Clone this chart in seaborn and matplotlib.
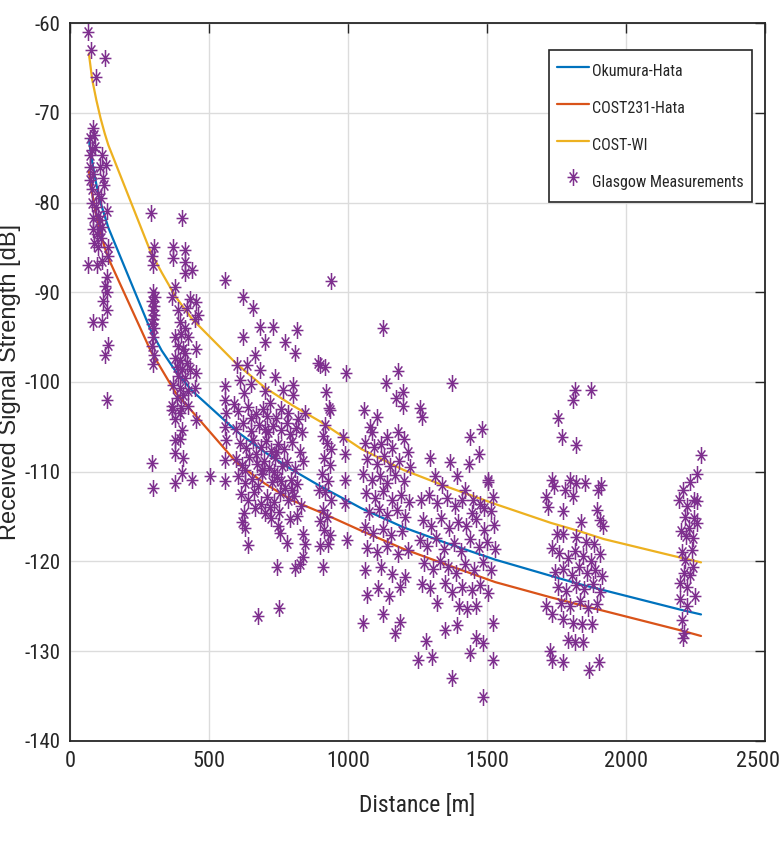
import numpy as np
import pandas as pd
import seaborn as sns
import matplotlib
matplotlib.use('Agg')
import matplotlib.pyplot as plt
from matplotlib import font_manager
from matplotlib.path import Path
from matplotlib.transforms import ScaledTranslation

# model curves (distance in m, level in dB)
model_d = [68, 80, 95, 110, 125, 138, 290, 330, 380, 440, 600, 700, 800, 900,
           1050, 1200, 1350, 1530, 1730, 1830, 1920, 2200, 2270]
okumura = [-73.0, -75.5, -78.0, -80.0, -81.5, -82.8, -94.2, -96.5, -98.8, -101.0,
           -105.5, -107.8, -109.8, -111.6, -114.1, -116.2, -117.9, -119.8, -121.6,
           -122.5, -123.2, -125.4, -125.9]
cost231 = [-76.5, -79.0, -81.5, -83.3, -85.0, -86.2, -96.5, -98.6, -101.2, -103.3,
           -109.0, -111.3, -113.2, -114.5, -116.6, -118.6, -120.3, -122.3, -124.0,
           -124.8, -125.5, -127.7, -128.3]
cost_wi = [-63.4, -66.3, -68.6, -70.6, -72.3, -73.6, -85.5, -87.8, -90.5, -93.0,
           -98.0, -100.6, -102.6, -104.4, -107.5, -109.8, -111.6, -113.6, -115.7,
           -116.6, -117.5, -119.6, -120.1]

# Glasgow measurements, one list per group of distances
meas_60_140 = [(66, -61), (76, -63), (126, -63.9), (92, -66), (84, -71.7), (88, -72.5),
               (72, -72.8), (90, -73.8), (78, -74.2), (72, -74.7), (114, -74.7),
               (128, -75.8), (72, -76), (108, -76), (82, -76.8), (72, -77.5), (122, -78),
               (119, -77.3), (102, -79), (110, -79.5), (78, -80), (135, -81), (84, -81.7),
               (108, -82), (114, -82.7), (84, -83), (96, -83.5), (110, -84), (100, -85),
               (138, -85), (138, -86), (66, -87), (96, -87), (132, -88.3), (126, -89.3),
               (135, -90), (120, -91), (132, -92), (84, -93.3), (114, -93.3), (138, -95.9),
               (126, -97), (132, -102), (80, -78.5), (92, -80.5), (100, -81.5), (104, -83),
               (88, -84.5), (116, -86.5)]
meas_300 = [(291, -81.2), (303, -85), (296, -86), (300, -87), (300, -90), (306, -90.5),
            (294, -91), (302, -91.5), (297, -92), (304, -92.5), (299, -93), (295, -93.5),
            (303, -94), (300, -95), (296, -96), (302, -97), (299, -98), (294, -109),
            (297, -111.8)]
meas_400 = [(372, -85), (414, -85.3), (404, -81.7), (372, -86.2), (414, -86.6), (438, -87.5),
            (414, -87.8), (378, -89.4), (366, -90.5), (432, -90.8), (455, -91.1), (390, -92),
            (420, -91.8), (462, -92.5), (396, -93.3), (414, -94), (448, -93), (400, -94.6),
            (378, -95), (424, -95), (390, -96), (408, -96.3), (455, -96.3), (414, -96.8),
            (378, -97.3), (396, -97.6), (420, -97.9), (384, -98.3), (402, -98.6), (432, -98.5),
            (455, -99), (390, -99.3), (414, -99.6), (372, -100.3), (396, -100.7), (424, -101),
            (448, -100.7), (408, -101.4), (384, -101.8), (366, -102.7), (400, -102.9),
            (424, -102.7), (396, -103.5), (378, -104.1), (455, -104.2), (402, -105.3),
            (378, -106.5), (396, -106.4), (378, -107.9), (408, -108.5), (402, -110.1),
            (378, -111.2), (438, -110.9), (366, -103.1)]
meas_530 = [(504, -110.5), (558, -88.6), (558, -108.7), (558, -111), (558, -100.5),
            (558, -102), (560, -103.5), (556, -105), (560, -106.5)]
meas_700 = [(624, -90.5), (660, -91.8), (683, -93.9), (731, -93.9), (622, -95), (701, -95.5),
            (773, -95.5), (815, -94.2), (809, -96.8), (665, -97), (600, -98.1), (636, -98.1),
            (683, -98.7), (737, -99.4), (612, -99.8), (803, -100.3), (767, -100.9),
            (625, -101.2), (803, -101.5), (650, -100.2), (700, -101), (720, -102.3),
            (590, -102.5), (760, -103), (845, -103.5),
            (605, -103.2), (640, -102.8), (668, -103.6), (695, -103), (742, -104), (785, -103.4),
            (820, -104.1), (598, -105.2), (622, -104.6), (652, -105.5), (680, -104.8),
            (712, -105.6), (730, -104.9), (758, -105.3), (790, -105.8), (812, -105.1),
            (836, -105.6), (610, -106.8), (632, -107.4), (660, -106.5), (688, -107.2),
            (705, -106.6), (722, -107.7), (748, -106.9), (770, -107.5), (800, -106.7),
            (826, -107.8), (596, -108.6), (618, -109.3), (645, -108.4), (672, -109.1),
            (698, -108.8), (716, -109.6), (738, -108.5), (762, -109.4), (780, -108.9),
            (808, -109.7), (840, -108.8), (606, -110.5), (628, -111.3), (655, -110.8),
            (676, -111.6), (692, -110.3), (725, -111.1), (745, -110.6), (772, -111.8),
            (795, -110.9), (818, -111.4), (615, -112.5), (640, -113.2), (662, -112.3),
            (686, -113.6), (710, -112.8), (735, -113.4), (756, -112.4), (785, -113.1),
            (806, -112.7), (830, -113.8), (625, -114.6), (665, -114), (701, -114.6),
            (722, -115.2), (752, -114.5), (790, -115.3), (815, -114.9),
            (650, -104), (700, -105.2), (740, -107.8), (690, -109.8), (760, -111),
            (720, -113.9), (670, -108), (710, -103.8), (780, -104.6), (630, -109.8),
            (800, -112), (735, -110),
            (618, -115.6), (630, -116.3), (642, -118.2), (750, -116.1), (755, -116.8),
            (780, -117.9), (840, -116.9), (845, -118), (840, -119.5), (827, -120.3),
            (743, -120.6), (809, -120.7), (677, -126.1), (753, -125.2)]
meas_930 = [(938, -88.8), (893, -97.9), (899, -98.1), (917, -98.3), (993, -99), (920, -101.1),
            (933, -102.9), (935, -103.1), (917, -104.8), (910, -106), (925, -106.8),
            (940, -107.5), (915, -108.5), (935, -109.3), (905, -110.2), (930, -111),
            (918, -112.3), (940, -113.2), (910, -114.3), (925, -115), (915, -116.5),
            (935, -117.1), (899, -118.3), (911, -120.6), (929, -118), (995, -117.6),
            (989, -110.9), (989, -108), (983, -106.1), (895, -112), (900, -115.5), (990, -113.5)]
meas_1150 = [(1125, -94), (1136, -100.1), (1181, -98.8), (1173, -101.8), (1197, -101.1),
             (1199, -102.7), (1259, -102.9), (1265, -103.9), (1059, -103.1), (1079, -105),
             (1103, -103.9), (1085, -105.6), (1141, -106.1), (1180, -105.6), (1203, -106.4),
             (1060, -106.8), (1095, -107.2), (1120, -106.9), (1160, -107.4), (1215, -107.8),
             (1070, -108.6), (1105, -109.1), (1130, -108.3), (1150, -109.4), (1185, -108.8),
             (1222, -109.5), (1055, -110.3), (1085, -110.9), (1115, -110.5), (1140, -111.2),
             (1170, -110.4), (1200, -111), (1065, -112.4), (1098, -112.9), (1125, -112.2),
             (1160, -113.1), (1190, -112.6), (1218, -113.4), (1075, -114.5), (1110, -114.1),
             (1140, -114.8), (1175, -114.3), (1205, -115), (1060, -116.2), (1090, -116.8),
             (1125, -116.4), (1155, -117), (1195, -116.6), (1070, -118.5), (1105, -118.9),
             (1140, -118.3), (1180, -119.2), (1215, -118.7), (1061, -121), (1067, -123.7),
             (1055, -126.9), (1109, -123), (1127, -125.8), (1149, -123.9), (1169, -128),
             (1189, -126.7), (1187, -122.8), (1205, -121.7), (1120, -120.6), (1160, -121.4)]
meas_1400 = [(1295, -108.5), (1367, -108.9), (1313, -110.5), (1391, -110.5), (1373, -100.1),
             (1439, -106.1), (1436, -109.1), (1481, -105.2), (1505, -111.1), (1451, -113.1),
             (1491, -114), (1505, -110.9), (1340, -111.5), (1420, -112), (1470, -108),
             (1520, -112.8),
             (1262, -113.2), (1290, -112.6), (1320, -113.5), (1355, -112.9), (1385, -113.8),
             (1410, -113.1), (1445, -114.6), (1475, -113.6), (1515, -114.4), (1270, -115.4),
             (1300, -116), (1335, -115.2), (1365, -116.3), (1395, -115.6), (1425, -116.1),
             (1460, -115.3), (1490, -116.5), (1525, -115.9), (1258, -117.6), (1285, -118.3),
             (1315, -117.4), (1345, -118.6), (1380, -117.9), (1405, -118.8), (1440, -117.5),
             (1470, -118.4), (1500, -117.8), (1530, -118.6), (1275, -120.2), (1305, -120.8),
             (1330, -119.9), (1360, -120.6), (1390, -121.3), (1420, -120.3), (1455, -120.9),
             (1485, -120.1), (1515, -121), (1265, -122.5), (1295, -123), (1350, -122.4),
             (1375, -123.4), (1410, -122.8), (1445, -123.2), (1475, -122.6), (1505, -123.5),
             (1320, -124.6), (1400, -125), (1430, -125.3), (1460, -125), (1523, -126.9),
             (1253, -131), (1281, -128.9), (1301, -130.6), (1349, -127.6), (1376, -133),
             (1392, -127.1), (1439, -130.2), (1460, -128.5), (1487, -129.1), (1523, -131),
             (1484, -135.1)]
meas_1820 = [(1817, -100.9), (1876, -100.9), (1811, -102), (1757, -104), (1769, -106.1),
             (1822, -107), (1733, -110.9), (1740, -111.6), (1799, -110.9), (1822, -111.2),
             (1851, -111.2), (1912, -111.5), (1900, -112), (1781, -112), (1809, -112.7),
             (1714, -112.8), (1720, -113.9), (1772, -114.4), (1895, -114.3), (1906, -115.4),
             (1916, -116.1), (1837, -115.6), (1751, -116.9), (1775, -116.9), (1820, -117.3),
             (1855, -117.8), (1885, -118), (1733, -118.5),
             (1760, -119), (1790, -119.6), (1815, -118.8), (1845, -119.4), (1875, -119.9),
             (1905, -119.2), (1745, -121.2), (1775, -120.8), (1805, -121.5), (1830, -120.6),
             (1860, -121.3), (1890, -120.9), (1915, -121.6), (1755, -122.8), (1785, -123.3),
             (1820, -122.6), (1850, -123.1), (1880, -122.5), (1905, -123.4), (1765, -124.6),
             (1800, -125), (1835, -124.4), (1865, -125.2), (1895, -124.7), (1714, -125),
             (1733, -125.8), (1775, -126.4), (1810, -126.8), (1841, -127), (1877, -127),
             (1793, -128.7), (1817, -129), (1847, -129), (1727, -130), (1733, -131),
             (1775, -131.2), (1868, -132.1), (1904, -131.2)]
meas_2230 = [(2269, -108.1), (2257, -110.2), (2232, -111.1), (2206, -112), (2192, -113.1),
             (2245, -113.1), (2220, -113.8), (2257, -113.3), (2211, -115), (2245, -115.2),
             (2255, -115.7), (2226, -116.3), (2198, -116.6), (2240, -117.4), (2200, -118.9),
             (2236, -118.7), (2214, -119.8), (2242, -120.6), (2210, -121.3), (2196, -122.4),
             (2220, -122.8), (2248, -123.9), (2196, -124.2), (2220, -125), (2200, -126.5),
             (2209, -128), (2205, -128.5), (2230, -121.5), (2215, -117.2)]

meas = pd.DataFrame(meas_60_140 + meas_300 + meas_400 + meas_530 + meas_700 + meas_930
                    + meas_1150 + meas_1400 + meas_1820 + meas_2230, columns=['d', 'db'])

sns.set_theme(style='white')

# pick a narrow face if one is installed, else Liberation Sans
fonts = font_manager.fontManager.ttflist
narrow = {'family': ['Liberation Sans', 'DejaVu Sans'], 'stretch': 'normal'}
for f in fonts:
    if f.name in ('Liberation Sans Narrow', 'Roboto Condensed', 'Open Sans Condensed'):
        narrow = {'family': [f.name, 'DejaVu Sans'], 'stretch': 'normal'}
        break
    if f.name == 'DejaVu Sans' and str(f.stretch) in ('condensed', 'semi-condensed'):
        narrow = {'family': ['DejaVu Sans'], 'stretch': 'condensed'}
plt.rcParams['font.family'] = narrow['family']
plt.rcParams['font.stretch'] = narrow['stretch']
plt.rcParams['axes.unicode_minus'] = False

# matlab-like asterisk, stretched a bit vertically as in the picture
star = Path([(0, -1), (0, 1), (-0.7, 0), (0.7, 0), (-0.45, -0.6), (0.45, 0.6),
             (-0.45, 0.6), (0.45, -0.6)],
            [Path.MOVETO, Path.LINETO] * 4)

ink = '#262626'
fig = plt.figure(figsize=(7.8, 8.59), dpi=100)
ax = fig.add_axes([0.0897, 0.1374, 0.891, 0.8358])

sns.lineplot(x=model_d, y=okumura, ax=ax, color='#0072BD', lw=1.6, label='Okumura-Hata')
sns.lineplot(x=model_d, y=cost231, ax=ax, color='#D95319', lw=1.6, label='COST231-Hata')
sns.lineplot(x=model_d, y=cost_wi, ax=ax, color='#EDB120', lw=1.6, label='COST-WI')
sns.scatterplot(data=meas, x='d', y='db', ax=ax, marker=star, s=150,
                color='#7E2F8E', edgecolor='#7E2F8E', linewidth=1.1,
                label='Glasgow Measurements', zorder=3)

ax.set_xlim(0, 2500)
ax.set_ylim(-140, -60)
ax.set_xticks(range(0, 2501, 500))
ax.set_yticks(range(-140, -59, 10))
ax.grid(True, color='#dcdcdc', lw=1)
ax.set_axisbelow(True)
for sp in ax.spines.values():
    sp.set_color(ink)
    sp.set_linewidth(1.3)
ax.tick_params(direction='in', length=7, width=1, color=ink, top=True, right=True,
               labelsize=15, labelcolor=ink, pad=7)
ax.tick_params(axis='x', labelsize=16)
# keep the last x label inside the canvas
last = ax.get_xticklabels()[-1]
last.set_transform(last.get_transform() + ScaledTranslation(-7 / 100, 0, fig.dpi_scale_trans))

ax.set_xlabel('Distance [m]', fontsize=17, color=ink, labelpad=16)
ax.set_ylabel('Received Signal Strength [dB]', fontsize=17, color=ink,
              family=['Liberation Sans', 'DejaVu Sans'], stretch='normal')
ax.yaxis.set_label_coords(-0.071, 0.5)

leg = ax.legend(loc='upper right', bbox_to_anchor=(0.981, 0.962), borderaxespad=0,
                fontsize=11.5, frameon=True, fancybox=False, framealpha=1, edgecolor=ink,
                handlelength=2.0, handleheight=2.0, handletextpad=0.2, labelspacing=0.77,
                borderpad=0.5, scatterpoints=1, labelcolor=ink)
leg.get_frame().set_linewidth(1.2)

fig.savefig('out.png', dpi=100, facecolor='white')
